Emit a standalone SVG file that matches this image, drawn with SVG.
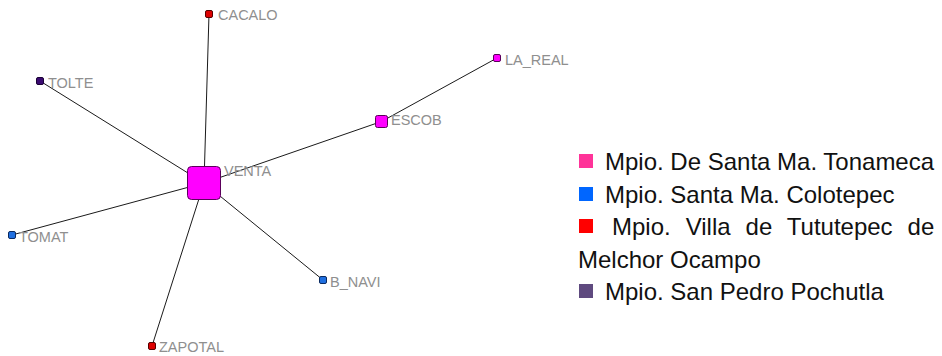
<svg xmlns="http://www.w3.org/2000/svg" width="942" height="356" viewBox="0 0 942 356">
<style>
.edge{stroke:#1a1a1a;stroke-width:1;fill:none}
.lbl{font-family:"Liberation Sans",Arial,sans-serif;font-size:14.5px;fill:#8f8f8f}
.leg{font-family:"Liberation Sans",Arial,sans-serif;font-size:24px;fill:#111}
.mag{fill:#ff00ff;stroke:#5a005a;stroke-width:1}
.red{fill:#dd0000;stroke:#550000;stroke-width:1}
.blu{fill:#1f6fe0;stroke:#0a2a60;stroke-width:1}
.pur{fill:#3a0a70;stroke:#1a0035;stroke-width:1}
</style>
<rect width="942" height="356" fill="#ffffff"/>
<g id="connectors">
<line class="edge" x1="204" y1="183" x2="209" y2="14"/>
<line class="edge" x1="204" y1="183" x2="40" y2="81"/>
<line class="edge" x1="204" y1="183" x2="381.5" y2="121.5"/>
<line class="edge" x1="381.5" y1="121.5" x2="497" y2="58"/>
<line class="edge" x1="204" y1="183" x2="12" y2="235"/>
<line class="edge" x1="204" y1="183" x2="152" y2="346"/>
<line class="edge" x1="204" y1="183" x2="323" y2="280"/>
</g>
<g id="node-venta">
<rect class="mag" x="187.5" y="166.5" width="33" height="33" rx="4"/>
<text class="lbl" x="224" y="176">VENTA</text>
</g>
<g id="node-cacalo">
<rect class="red" x="205.5" y="10.5" width="7" height="7" rx="1.5"/>
<text class="lbl" x="218" y="20">CACALO</text>
</g>
<g id="node-tolte">
<rect class="pur" x="36.5" y="77.5" width="7" height="7" rx="1.5"/>
<text class="lbl" x="48" y="88">TOLTE</text>
</g>
<g id="node-escob">
<rect class="mag" x="375.5" y="115.5" width="12" height="12" rx="2"/>
<text class="lbl" x="391" y="125">ESCOB</text>
</g>
<g id="node-la-real">
<rect class="mag" x="493.5" y="54.5" width="7" height="7" rx="1.5"/>
<text class="lbl" x="505" y="65">LA_REAL</text>
</g>
<g id="node-tomat">
<rect class="blu" x="8.5" y="231.5" width="7" height="7" rx="1.5"/>
<text class="lbl" x="19" y="242">TOMAT</text>
</g>
<g id="node-b-navi">
<rect class="blu" x="319.5" y="276.5" width="7" height="7" rx="1.5"/>
<text class="lbl" x="330" y="287">B_NAVI</text>
</g>
<g id="node-zapotal">
<rect class="red" x="148.5" y="342.5" width="7" height="7" rx="1.5"/>
<text class="lbl" x="159" y="352">ZAPOTAL</text>
</g>
<g id="legend">
<rect x="579" y="154" width="14" height="14" fill="#ff3399"/>
<text class="leg" x="605" y="170">Mpio. De Santa Ma. Tonameca</text>
<rect x="579" y="187" width="14" height="14" fill="#0066ff"/>
<text class="leg" x="605" y="203">Mpio. Santa Ma. Colotepec</text>
<rect x="579" y="219" width="14" height="14" fill="#ff0000"/>
<text class="leg" x="612" y="235" style="word-spacing:8.3px">Mpio. Villa de Tututepec de</text>
<text class="leg" x="578" y="268">Melchor Ocampo</text>
<rect x="579" y="284" width="14" height="14" fill="#5f4a7f"/>
<text class="leg" x="605" y="300">Mpio. San Pedro Pochutla</text>
</g>
</svg>
